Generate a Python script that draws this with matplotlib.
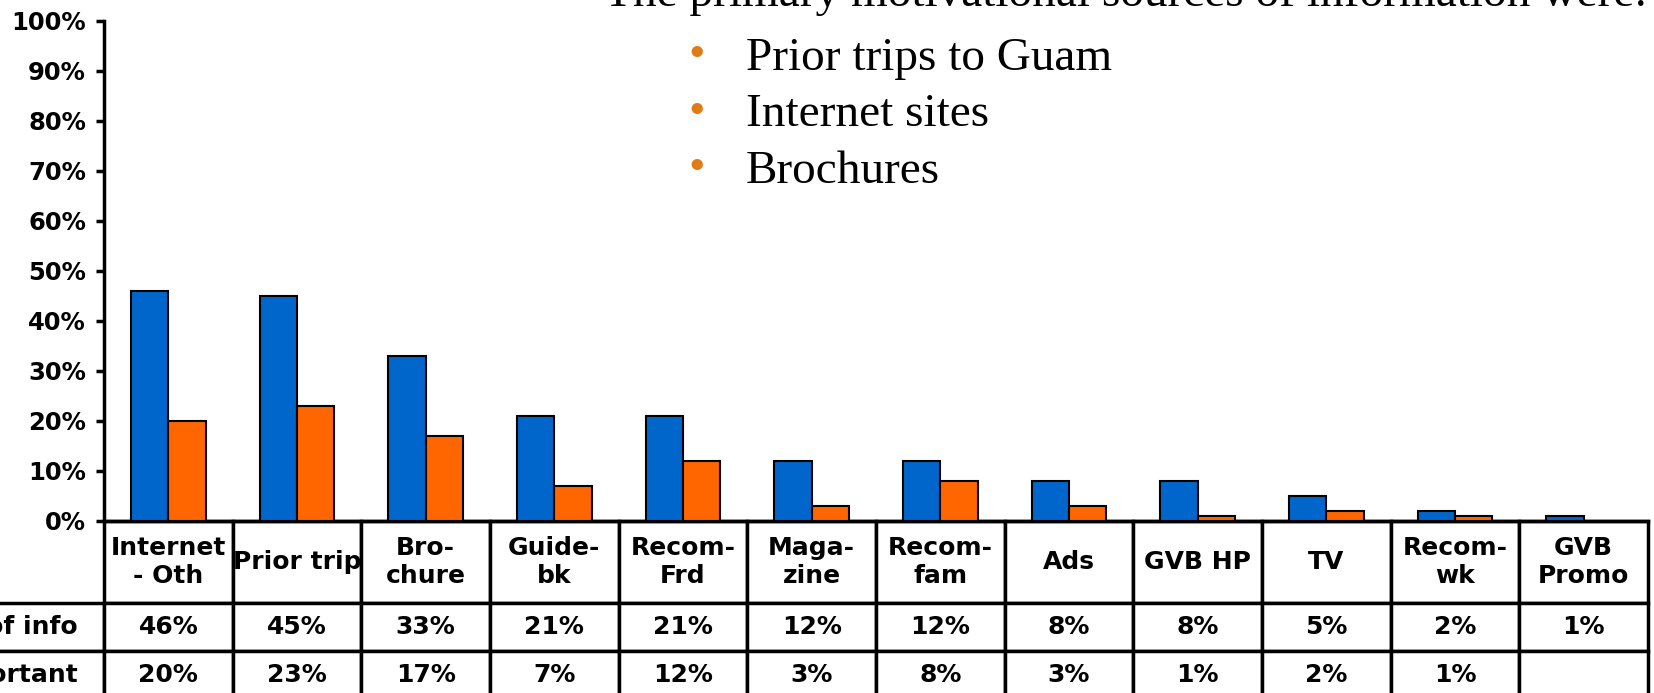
import numpy as np
import matplotlib
matplotlib.use('Agg')
import matplotlib.pyplot as plt

# survey data: share naming each source
categories = ['Internet\n- Oth', 'Prior trip', 'Bro-\nchure', 'Guide-\nbk', 'Recom-\nFrd',
              'Maga-\nzine', 'Recom-\nfam', 'Ads', 'GVB HP', 'TV', 'Recom-\nwk', 'GVB\nPromo']
source_info = [46, 45, 33, 21, 21, 12, 12, 8, 8, 5, 2, 1]
most_important = [20, 23, 17, 7, 12, 3, 8, 3, 1, 2, 1, None]
row_labels = ['Source of info', 'Most important']
bullets = ['Prior trips to Guam', 'Internet sites', 'Brochures']
headline = 'The primary motivational sources of information were:'

blue = '#0066CC'
orange = '#FF6600'
sans = 'DejaVu Sans'
serif = 'Liberation Serif'

W, H = 1654, 693
fig = plt.figure(figsize=(W / 100, H / 100), dpi=100, facecolor='white')

ax_l, ax_r, ax_t, ax_b = 104, 1648, 21, 521
ax = fig.add_axes([ax_l / W, 1 - ax_b / H, (ax_r - ax_l) / W, (ax_b - ax_t) / H])

x = np.arange(len(categories))
bw = 0.29
ax.bar(x - bw / 2, np.array(source_info) / 100, bw, color=blue, edgecolor='black', lw=1.5, zorder=3)
imp_idx = [i for i, v in enumerate(most_important) if v is not None]
imp_val = [most_important[i] / 100 for i in imp_idx]
ax.bar(np.array(imp_idx) + bw / 2, imp_val, bw, color=orange, edgecolor='black', lw=1.5, zorder=3)

ax.set_xlim(-0.5, len(categories) - 0.5)
ax.set_ylim(0, 1)
yt = np.arange(0, 1.01, 0.1)
ax.set_yticks(yt)
ax.set_yticklabels([f'{int(round(v * 100))}%' for v in yt], fontsize=17.5, fontweight='bold', family=sans)
ax.set_xticks([])
ax.tick_params(axis='y', direction='out', length=6, width=2.5, pad=7)
for s in ['top', 'right']:
    ax.spines[s].set_visible(False)
for s in ['left', 'bottom']:
    ax.spines[s].set_linewidth(2.5)

# data table under the bars
cell_text = [[f'{v}%' for v in source_info],
             ['' if v is None else f'{v}%' for v in most_important]]
tbl = ax.table(cellText=cell_text, rowLabels=row_labels, colLabels=categories,
               cellLoc='center', rowLoc='right', bbox=[0, -0.356, 1, 0.356])
tbl.auto_set_font_size(False)
ncol = len(categories)
for (r, c), cell in tbl.get_celld().items():
    cell.set_linewidth(2.5)
    cell.set_edgecolor('black')
    cell.get_text().set_fontsize(18)
    cell.get_text().set_fontweight('bold')
    cell.get_text().set_family(sans)
    if c == -1:
        cell.set_width(0.08)
        cell.visible_edges = 'TBR'
    else:
        cell.set_width(1 / ncol)
    cell.set_height(0.164 if r == 0 else 0.096)

# headline and bullet list
fig.text(604 / W, 1 - 6 / H, headline, family=serif, fontsize=34, va='baseline', ha='left')
for i, b in enumerate(bullets):
    yb = 1 - (70 + 56.5 * i) / H
    fig.text(697 / W, yb + 3 / H, '\u2022', family=serif, fontsize=34, color='#E07B18',
             va='baseline', ha='center')
    fig.text(746 / W, yb, b, family=serif, fontsize=34, va='baseline', ha='left')

fig.savefig('out.png', dpi=100, facecolor='white')
